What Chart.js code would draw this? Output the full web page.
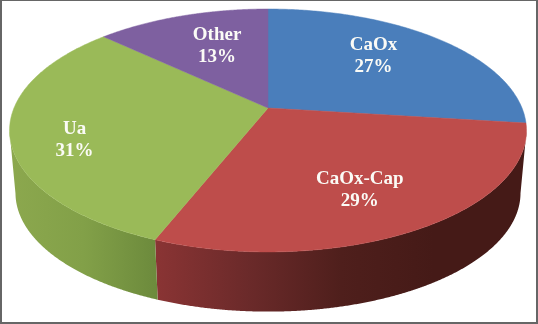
<!DOCTYPE html>
<html>
<head>
<meta charset="utf-8">
<style>
html,body{margin:0;padding:0;background:#fff;overflow:hidden}
#frame{position:relative;width:538px;height:324px;box-sizing:border-box;border:2px solid #666;border-top-width:1px;overflow:hidden;background:#fff}
#c{position:absolute;left:-2px;top:-1px;filter:blur(0.5px)}
</style>
<script src="https://cdn.jsdelivr.net/npm/chart.js@4/dist/chart.umd.min.js"></script>
</head>
<body>
<div id="frame"><canvas id="c" width="538" height="324"></canvas></div>
<script>
const categories = ["CaOx", "CaOx-Cap", "Ua", "Other"];
const percents = [27, 29, 31, 13];
const sliceColors = ["#4a7ebb", "#be4d4b", "#9aba58", "#7e60a0"];
// wall shade stops, left to right across each slice's visible side
const wallShades = [
  ["#2a5a8a", "#2a5a8a"],
  ["#8a3434", "#6b2a2a", "#4f1f1c", "#451a17", "#451a17"],
  ["#8ca84e", "#82a048", "#6c8a3c"],
  ["#5a4674", "#5a4674"]
];
const labelNudges = [[-1,-9],[6,15],[-41,16],[4,-3]];

const view = {cx:268, cy:108, a:254, b:117.3, k:0.185, depthY:63, depthScale:0.977};

function project(angle, r, wall){
  const u = r*Math.cos(angle), v = r*Math.sin(angle), d = 1 - view.k*v;
  const s = wall ? view.depthScale : 1;
  return [view.cx + s*view.a*u/d, view.cy + (wall?view.depthY:0) + s*view.b*v/d];
}
const pie3d = {
  id:"pie3d",
  beforeDatasetDraw(chart){
    const ctx = chart.ctx, arcs = chart.getDatasetMeta(0).data;
    arcs.forEach((arc,i)=>{
      const steps = 400, top = [], low = [];
      for(let s=0;s<=steps;s++){
        const t=arc.startAngle+(arc.endAngle-arc.startAngle)*s/steps;
        if(Math.sin(t)<view.k) continue;   // only the part of the rim facing the viewer
        top.push(project(t,1)); low.push(project(t,1,true));
      }
      if(!top.length) return;
      const xs=top.concat(low).map(p=>p[0]);
      const g=ctx.createLinearGradient(Math.min(...xs),0,Math.max(...xs),0);
      wallShades[i].forEach((c,j,all)=>g.addColorStop(j/(all.length-1),c));
      ctx.beginPath();
      top.forEach((p,j)=>j?ctx.lineTo(p[0],p[1]):ctx.moveTo(p[0],p[1]));
      low.reverse().forEach(p=>ctx.lineTo(p[0],p[1]));
      ctx.closePath();
      ctx.fillStyle=g;ctx.fill();
    });
    arcs.forEach((arc)=>{
      const steps=160;
      ctx.beginPath();
      ctx.moveTo(view.cx,view.cy);
      for(let s=0;s<=steps;s++){
        const p=project(arc.startAngle+(arc.endAngle-arc.startAngle)*s/steps,1);
        ctx.lineTo(p[0],p[1]);
      }
      ctx.closePath();
      ctx.fillStyle=arc.options.backgroundColor;
      ctx.strokeStyle=arc.options.backgroundColor;
      ctx.lineWidth=0.5;ctx.fill();ctx.stroke();
    });
    ctx.save();
    ctx.fillStyle="#fbfbf6";
    ctx.font='bold 19px "Liberation Serif"';
    ctx.textAlign="center";ctx.textBaseline="middle";
    arcs.forEach((arc,i)=>{
      const p=project((arc.startAngle+arc.endAngle)/2,0.6);
      const x=p[0]+labelNudges[i][0], y=p[1]+labelNudges[i][1];
      ctx.fillText(categories[i],x,y-11);
      ctx.fillText(percents[i]+"%",x,y+11);
    });
    ctx.restore();
    return false;
  }
};
new Chart(document.getElementById("c"),{
  type:"pie",
  data:{labels:categories,datasets:[{data:percents,backgroundColor:sliceColors,borderWidth:0}]},
  options:{responsive:false,animation:false,rotation:0,
    plugins:{legend:{display:false},tooltip:{enabled:false}}},
  plugins:[pie3d]
});
</script>
</body>
</html>
